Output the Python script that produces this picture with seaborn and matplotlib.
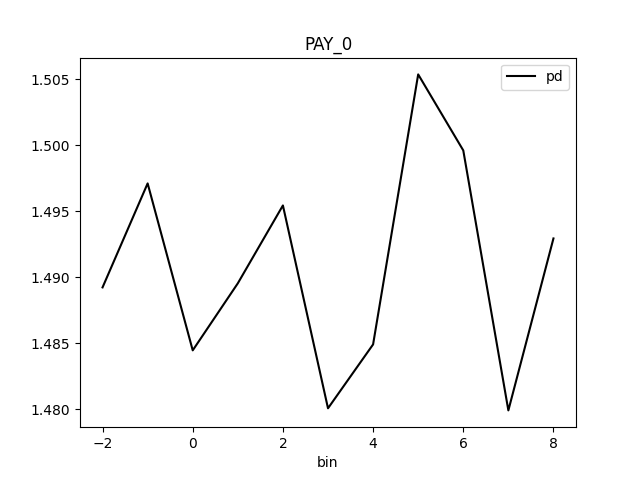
import pandas as pd
import seaborn as sns
import matplotlib
matplotlib.use("Agg")
import matplotlib.pyplot as plt

# values
bins = [-2, -1, 0, 1, 2, 3, 4, 5, 6, 7, 8]
pd_values = [1.48924, 1.49712, 1.48447, 1.48955, 1.49545, 1.48008,
             1.48492, 1.50538, 1.49962, 1.47992, 1.49295]

df = pd.DataFrame({"bin": bins, "pd": pd_values})

fig, ax = plt.subplots(figsize=(6.4, 4.8), dpi=100)
sns.lineplot(data=df, x="bin", y="pd", color="black", label="pd", ax=ax)
ax.set_title("PAY_0")
ax.set_xlabel("bin")
ax.set_ylabel("")
ax.legend(loc="upper right")

plt.savefig("out.png")
